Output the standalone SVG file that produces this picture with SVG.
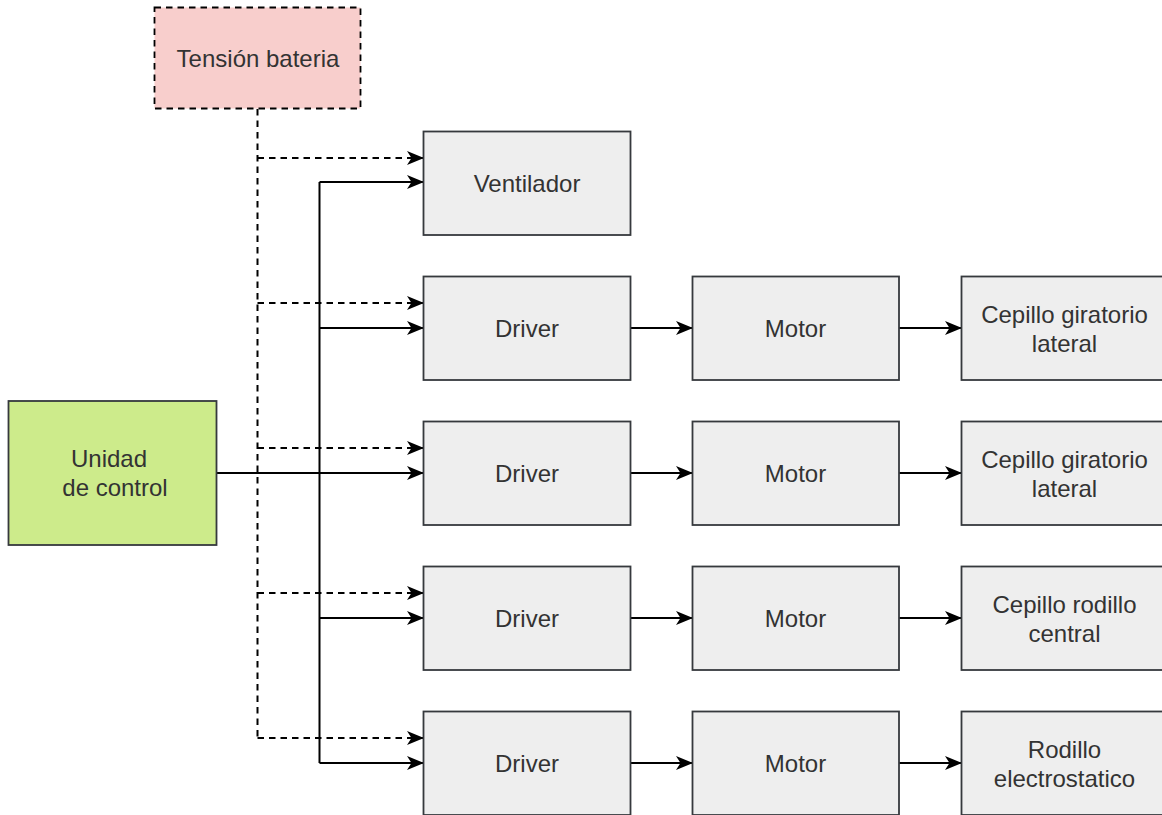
<svg xmlns="http://www.w3.org/2000/svg" width="1162" height="815" viewBox="0 0 1162 815">
  <style>
    .box { fill: #eeeeee; stroke: #36393d; stroke-width: 1.8; }
    .ctrl { fill: #cdeb8b; stroke: #36393d; stroke-width: 1.8; }
    .batt { fill: #f8cecc; stroke: #000000; stroke-width: 1.8; stroke-dasharray: 6.5 5; }
    .lbl { font-family: "Liberation Sans", Arial, sans-serif; font-size: 24px; fill: #333333; text-anchor: middle; }
    .wire { fill: none; stroke: #000000; stroke-width: 2; }
    .dash { fill: none; stroke: #000000; stroke-width: 2; stroke-dasharray: 6.5 5; }
  </style>
  <defs>
    <!-- block arrow with a notched back, sized in user units -->
    <marker id="arrow" markerUnits="userSpaceOnUse" viewBox="0 0 17 14" refX="16" refY="7" markerWidth="17" markerHeight="14" orient="auto">
      <path d="M0,0 L17,7 L0,14 L4.5,7 Z" fill="#000000"/>
    </marker>
  </defs>

  <!-- connectors -->
  <g id="connectors">
    <!-- battery voltage feed (dashed) -->
    <path class="dash" d="M257.5,109 V738"/>
    <path class="dash" d="M257.5,158 H423" marker-end="url(#arrow)"/>
    <path class="dash" d="M257.5,303 H423" marker-end="url(#arrow)"/>
    <path class="dash" d="M257.5,448 H423" marker-end="url(#arrow)"/>
    <path class="dash" d="M257.5,593 H423" marker-end="url(#arrow)"/>
    <path class="dash" d="M257.5,738 H423" marker-end="url(#arrow)"/>
    <!-- control bus (solid) -->
    <path class="wire" d="M216,473 H423" marker-end="url(#arrow)"/>
    <path class="wire" d="M319.5,182 V763"/>
    <path class="wire" d="M319.5,182 H423" marker-end="url(#arrow)"/>
    <path class="wire" d="M319.5,328 H423" marker-end="url(#arrow)"/>
    <path class="wire" d="M319.5,618 H423" marker-end="url(#arrow)"/>
    <path class="wire" d="M319.5,763 H423" marker-end="url(#arrow)"/>
    <!-- driver to motor -->
    <path class="wire" d="M631,328 H692" marker-end="url(#arrow)"/>
    <path class="wire" d="M631,473 H692" marker-end="url(#arrow)"/>
    <path class="wire" d="M631,618 H692" marker-end="url(#arrow)"/>
    <path class="wire" d="M631,763 H692" marker-end="url(#arrow)"/>
    <!-- motor to brush -->
    <path class="wire" d="M899,328 H961" marker-end="url(#arrow)"/>
    <path class="wire" d="M899,473 H961" marker-end="url(#arrow)"/>
    <path class="wire" d="M899,618 H961" marker-end="url(#arrow)"/>
    <path class="wire" d="M899,763 H961" marker-end="url(#arrow)"/>
  </g>

  <g id="tension-bateria">
    <rect class="batt" x="154.5" y="7.5" width="206" height="101"/>
    <text class="lbl" x="258" y="67">Tensión bateria</text>
  </g>

  <g id="unidad-control">
    <rect class="ctrl" x="8.5" y="401" width="208" height="144"/>
    <text class="lbl" x="109" y="467">Unidad</text>
    <text class="lbl" x="115" y="496">de control</text>
  </g>

  <g id="ventilador">
    <rect class="box" x="423.5" y="131.5" width="207" height="103.5"/>
    <text class="lbl" x="527" y="191.5">Ventilador</text>
  </g>

  <!-- row 1 -->
  <g id="driver-1">
    <rect class="box" x="423.5" y="276.5" width="207" height="103.5"/>
    <text class="lbl" x="527" y="336.5">Driver</text>
  </g>
  <g id="motor-1">
    <rect class="box" x="692.5" y="276.5" width="206.5" height="103.5"/>
    <text class="lbl" x="795.5" y="336.5">Motor</text>
  </g>
  <g id="cepillo-lateral-1">
    <rect class="box" x="961.5" y="276.5" width="207" height="103.5"/>
    <text class="lbl" x="1064.5" y="322.5">Cepillo giratorio</text>
    <text class="lbl" x="1064.5" y="351.5">lateral</text>
  </g>

  <!-- row 2 -->
  <g id="driver-2">
    <rect class="box" x="423.5" y="421.5" width="207" height="103.5"/>
    <text class="lbl" x="527" y="481.5">Driver</text>
  </g>
  <g id="motor-2">
    <rect class="box" x="692.5" y="421.5" width="206.5" height="103.5"/>
    <text class="lbl" x="795.5" y="481.5">Motor</text>
  </g>
  <g id="cepillo-lateral-2">
    <rect class="box" x="961.5" y="421.5" width="207" height="103.5"/>
    <text class="lbl" x="1064.5" y="467.5">Cepillo giratorio</text>
    <text class="lbl" x="1064.5" y="496.5">lateral</text>
  </g>

  <!-- row 3 -->
  <g id="driver-3">
    <rect class="box" x="423.5" y="566.5" width="207" height="103.5"/>
    <text class="lbl" x="527" y="626.5">Driver</text>
  </g>
  <g id="motor-3">
    <rect class="box" x="692.5" y="566.5" width="206.5" height="103.5"/>
    <text class="lbl" x="795.5" y="626.5">Motor</text>
  </g>
  <g id="cepillo-rodillo-central">
    <rect class="box" x="961.5" y="566.5" width="207" height="103.5"/>
    <text class="lbl" x="1064.5" y="612.5">Cepillo rodillo</text>
    <text class="lbl" x="1064.5" y="641.5">central</text>
  </g>

  <!-- row 4 -->
  <g id="driver-4">
    <rect class="box" x="423.5" y="711.5" width="207" height="103.5"/>
    <text class="lbl" x="527" y="771.5">Driver</text>
  </g>
  <g id="motor-4">
    <rect class="box" x="692.5" y="711.5" width="206.5" height="103.5"/>
    <text class="lbl" x="795.5" y="771.5">Motor</text>
  </g>
  <g id="rodillo-electrostatico">
    <rect class="box" x="961.5" y="711.5" width="207" height="103.5"/>
    <text class="lbl" x="1064.5" y="757.5">Rodillo</text>
    <text class="lbl" x="1064.5" y="786.5">electrostatico</text>
  </g>
</svg>
